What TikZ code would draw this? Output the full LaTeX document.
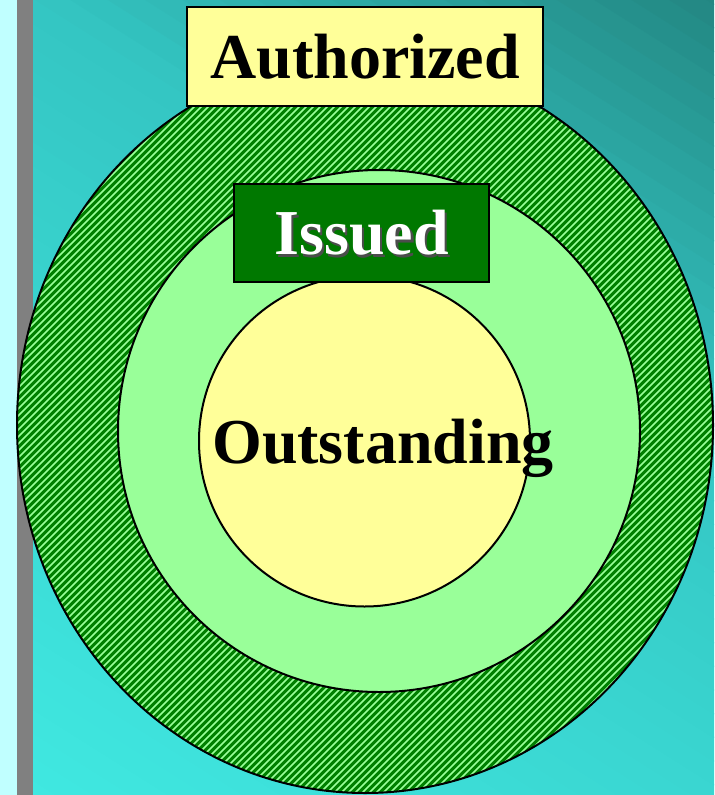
\documentclass[tikz,border=0pt]{standalone}
\usepackage{fontspec}
\setmainfont{Liberation Serif}
\usepackage{tikz}
\usetikzlibrary{calc}

\definecolor{stripcyan}{HTML}{C0FFFF}
\definecolor{bargrey}{HTML}{808080}
\definecolor{bgdark}{RGB}{35,135,130}
\definecolor{bgtop}{RGB}{52,198,195}
\definecolor{bgbright}{RGB}{64,232,225}
\definecolor{ringgreen}{HTML}{008000}
\definecolor{palegreen}{HTML}{99FF99}
\definecolor{paleyellow}{HTML}{FFFF99}
\definecolor{boxgreen}{HTML}{007800}

\tikzset{
    bigword/.style={font=\fontsize{48}{50}\selectfont\bfseries, inner sep=0pt},
    labelbox/.style={draw, line width=1.6pt, minimum width=#1, minimum height=74pt, inner sep=0pt},
    ring/.style={draw, line width=1.5pt},
    stripe/.style={palegreen, line width=1.3pt}
}

\begin{document}
\begin{tikzpicture}[x=0.75pt, y=-0.75pt]
        \useasboundingbox (0,0) rectangle (714,795);
        \clip (0,0) rectangle (714,795);
        \fill[stripcyan] (0,0) rectangle (17,795);
        \begin{scope}
            \clip (33,0) rectangle (714,795);
            \fill[bgtop] (33,0) rectangle (714,795);
            \foreach \t [evaluate=\t as \p using {min(100,(\t+10)/3.64)}] in {0,20,...,360}
                \fill[bgdark!\p!bgtop] ({0.534*(\t)-981},{-0.845*(\t)-640.8}) -- ++(2028,1281.6) -- ++(11.2,-17.7) -- ++(-2028,-1281.6) -- cycle;
            \foreach \t [evaluate=\t as \p using {min(100,-(\t+10)/6.72)}] in {-700,-680,...,-20}
                \fill[bgbright!\p!bgtop] ({0.534*(\t)-981},{-0.845*(\t)-640.8}) -- ++(2028,1281.6) -- ++(11.2,-17.7) -- ++(-2028,-1281.6) -- cycle;
        \end{scope}
        \fill[bargrey] (17,0) rectangle (33,795);
        \fill[ringgreen] (365,425) ellipse [x radius=348, y radius=368];
        \begin{scope}
            \clip (365,425) ellipse [x radius=348, y radius=368];
            \foreach \k in {-800,-793,...,720}
                \draw[stripe] (\k,800) -- (\k+805,-5);
        \end{scope}
        \draw[ring] (365,425) ellipse [x radius=348, y radius=368];
        \draw[ring, fill=palegreen] (379,431) circle [radius=261];
        \draw[ring, fill=paleyellow] (364.5,441) circle [radius=165.5];
        \node[labelbox=267pt, fill=paleyellow, bigword] (authorized) at (365,56.5) {Authorized};
        \node[labelbox=191pt, fill=boxgreen] (issued) at (361.5,233) {};
        \node[bigword, text=black!70] (issuedshadow) at ($(issued)+(2.5,2.5)$) {Issued};
        \node[bigword, text=white] (issuedtext) at (issued) {Issued};
        \node[bigword, anchor=base] (outstanding) at (383,463) {Outstanding};
    \end{tikzpicture}
\end{document}
